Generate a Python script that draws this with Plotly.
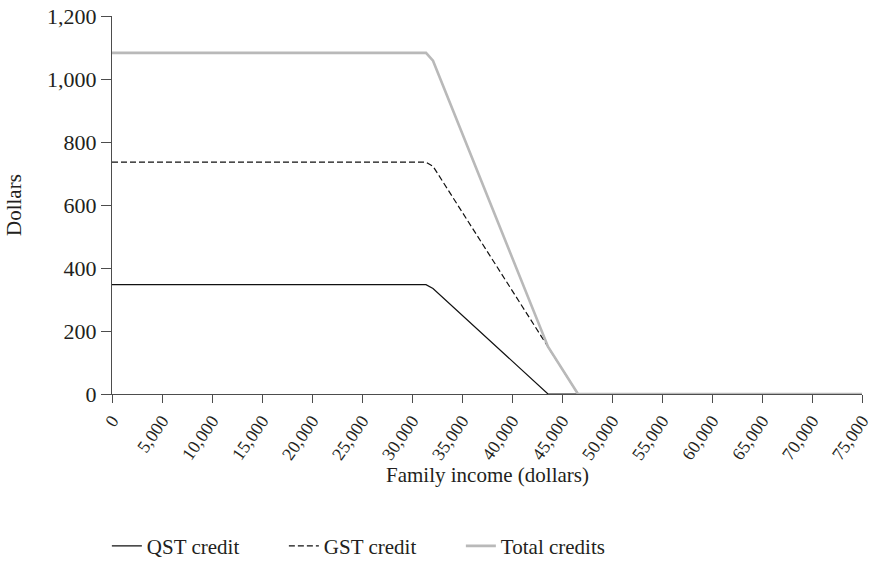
import plotly.graph_objects as go

# Data
qst_income = [0, 31400, 32100, 43600, 75000]
qst_credit = [347, 347, 335, 0, 0]

gst_income = [0, 31400, 32100, 46600, 75000]
gst_credit = [736, 736, 723, 0, 0]

total_income = [0, 31400, 32100, 43600, 46600, 75000]
total_credit = [1083, 1083, 1058, 150, 0, 0]

x_ticks = list(range(0, 75001, 5000))
y_ticks = list(range(0, 1201, 200))

FONT = "Liberation Serif"
TXT = "#231f20"
AX = "#4d4d4d"

fig = go.Figure()
fig.add_trace(go.Scatter(x=qst_income, y=qst_credit, mode="lines", name="QST credit",
                         line=dict(color="#111111", width=1.2)))
fig.add_trace(go.Scatter(x=gst_income, y=gst_credit, mode="lines", name="GST credit",
                         line=dict(color="#111111", width=1.2, dash="6px,3px")))
fig.add_trace(go.Scatter(x=total_income, y=total_credit, mode="lines", name="Total credits",
                         line=dict(color="#b9b9b9", width=2.6)))

fig.update_layout(
    width=876, height=562,
    margin=dict(l=112, r=14, t=16, b=168),
    paper_bgcolor="white", plot_bgcolor="white",
    font=dict(family=FONT, size=21, color=TXT),
    showlegend=True,
    legend=dict(orientation="h", xref="container", x=0.122, xanchor="left",
                yref="container", y=0.028, yanchor="middle",
                font=dict(size=21, color=TXT), itemwidth=30, entrywidth=132,
                traceorder="normal"),
    xaxis=dict(range=[0, 75000], tickvals=x_ticks, tickformat=",", tickangle=-55,
               showgrid=False, zeroline=False, showline=True, linecolor=AX,
               linewidth=1.3, ticks="outside", ticklen=8, tickcolor=AX,
               tickfont=dict(size=18, color=TXT), automargin=False),
    yaxis=dict(range=[0, 1200], tickvals=y_ticks, tickformat=",",
               showgrid=False, zeroline=False, showline=True, linecolor=AX,
               linewidth=1.3, ticks="outside", ticklen=10, tickcolor=AX,
               tickfont=dict(size=22, color=TXT), automargin=False),
    annotations=[
        dict(text="Family income (dollars)", xref="paper", yref="paper", x=0.5, y=-0.215,
             xanchor="center", yanchor="middle", showarrow=False, font=dict(size=21, color=TXT)),
        dict(text="Dollars", xref="paper", yref="paper", x=-0.1307, y=0.5, textangle=-90,
             xanchor="center", yanchor="middle", showarrow=False, font=dict(size=21, color=TXT)),
    ],
)

fig.write_html("out.html", config={"displayModeBar": False},
               post_script="document.body.style.margin='0';")
